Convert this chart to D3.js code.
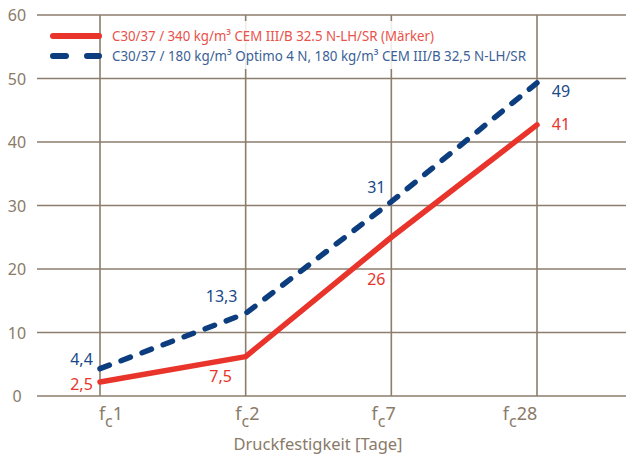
<!DOCTYPE html>
<html><head><meta charset="utf-8">
<script src="https://cdn.jsdelivr.net/npm/d3@7"></script>
<style>body{margin:0;background:#fff}svg{display:block}</style>
</head><body>
<script>
// ---- data ----
const categories = ["1", "2", "7", "28"];
const seriesNames = [
  "C30/37 / 340 kg/m³ CEM III/B 32.5 N-LH/SR (Märker)",
  "C30/37 / 180 kg/m³ Optimo 4 N, 180 kg/m³ CEM III/B 32,5 N-LH/SR"
];
const redValues  = [2.2, 6.2, 25.0, 42.7];
const blueValues = [4.3, 13.0, 30.6, 49.3];
const redLabels  = ["2,5", "7,5", "26", "41"];
const blueLabels = ["4,4", "13,3", "31", "49"];
const yTicks = [0, 10, 20, 30, 40, 50, 60];
const xTitle = "Druckfestigkeit [Tage]";

// ---- layout ----
const W = 626, H = 458;
const grid = "#8c7d6c", txt = "#8a7a68";
const red = "#e8342a", blue = "#0c3d7e";
const redText = "#ea5149", blueText = "#3b5f96";
const font = "'Noto Sans', 'Open Sans', sans-serif";

const svg = d3.select("body").append("svg").attr("width", W).attr("height", H);
const x = d3.scalePoint().domain(categories).range([100, 537]);
const xl = d3.scalePoint().domain(categories).range([111, 520]);
const y = d3.scaleLinear().domain([0, 60]).range([396, 15]);

// horizontal grid
svg.append("g").selectAll("line").data(yTicks).join("line")
  .attr("x1", 37).attr("x2", W).attr("y1", d => y(d)).attr("y2", d => y(d))
  .attr("stroke", grid).attr("stroke-width", 1.6);
// vertical grid
svg.append("g").selectAll("line").data(categories).join("line")
  .attr("x1", d => x(d)).attr("x2", d => x(d)).attr("y1", y(60)).attr("y2", y(0))
  .attr("stroke", grid).attr("stroke-width", 1.6);

// y tick labels
svg.append("g").selectAll("text").data(yTicks).join("text")
  .attr("x", 17).attr("y", d => y(d) + 6).attr("text-anchor", "middle")
  .attr("font-family", font).attr("font-size", 16).attr("fill", txt).text(d => d);

// x tick labels
const xt = svg.append("g").selectAll("text").data(categories).join("text")
  .attr("x", d => xl(d)).attr("y", 420).attr("text-anchor", "middle")
  .attr("font-family", font).attr("font-size", 18).attr("fill", txt);
xt.append("tspan").text("f");
xt.append("tspan").attr("dy", 7).attr("font-size", 16).text("c");
xt.append("tspan").attr("dy", -7).text(d => d);

// axis title
svg.append("text").attr("x", 318).attr("y", 450).attr("text-anchor", "middle")
  .attr("font-family", font).attr("font-size", 16.5).attr("fill", txt).text(xTitle);

// legend background
svg.append("rect").attr("x", 104).attr("y", 21).attr("width", 432).attr("height", 48)
  .attr("fill", "#fff").attr("fill-opacity", 0.85);

// lines
const line = d3.line().x((d, i) => x(categories[i])).y(d => y(d));
svg.append("path").datum(redValues).attr("d", line).attr("fill", "none")
  .attr("stroke", red).attr("stroke-width", 5.5).attr("stroke-linecap", "round").attr("stroke-linejoin", "round");
svg.append("path").datum(blueValues).attr("d", line).attr("fill", "none")
  .attr("stroke", blue).attr("stroke-width", 5.5).attr("stroke-linecap", "round")
  .attr("stroke-dasharray", "10 12.5");

// legend
svg.append("line").attr("x1", 53).attr("x2", 99).attr("y1", 36).attr("y2", 36)
  .attr("stroke", red).attr("stroke-width", 6).attr("stroke-linecap", "round");
svg.append("line").attr("x1", 53).attr("x2", 99).attr("y1", 56).attr("y2", 56)
  .attr("stroke", blue).attr("stroke-width", 6).attr("stroke-linecap", "round")
  .attr("stroke-dasharray", "13 21");
const leg = [{t: seriesNames[0], c: redText, y: 41, w: 322}, {t: seriesNames[1], c: blueText, y: 61, w: 414}];
svg.append("g").selectAll("text").data(leg).join("text")
  .attr("x", 112).attr("y", d => d.y).attr("font-family", font).attr("font-size", 14)
  .attr("fill", d => d.c).attr("textLength", d => d.w).attr("lengthAdjust", "spacingAndGlyphs")
  .text(d => d.t);

// value labels (offsets relative to data points)
const redOff  = [[-18.5, 8], [-25, 25], [-15, 48], [24, 5]];
const blueOff = [[-18.5, -4], [-24, -11], [-15, -9], [24, 14]];
function labels(vals, labs, offs, col) {
  svg.append("g").selectAll("text").data(vals).join("text")
    .attr("x", (d, i) => x(categories[i]) + offs[i][0])
    .attr("y", (d, i) => y(d) + offs[i][1])
    .attr("text-anchor", "middle").attr("font-family", font).attr("font-size", 16)
    .attr("fill", col).text((d, i) => labs[i]);
}
labels(redValues, redLabels, redOff, red);
labels(blueValues, blueLabels, blueOff, "#1a4889");
</script>
</body></html>
